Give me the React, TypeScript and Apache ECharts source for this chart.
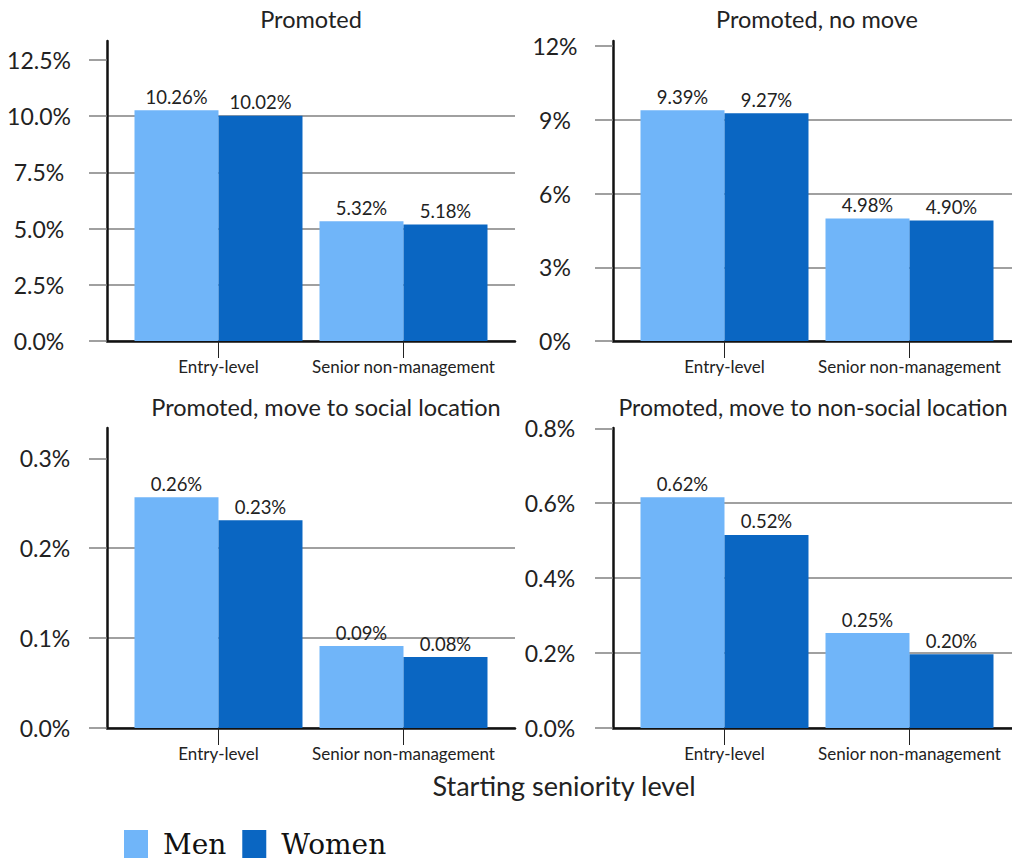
import React, { useEffect, useRef } from 'react';
import * as echarts from 'echarts';

// ---------- data ----------
const categories = ['Entry-level', 'Senior non-management'];
const seriesNames = ['Men', 'Women'];
const panelTitles = [
  'Promoted',
  'Promoted, no move',
  'Promoted, move to social location',
  'Promoted, move to non-social location',
];
const promotedMen = [10.26, 5.32];
const promotedWomen = [10.02, 5.18];
const noMoveMen = [9.39, 4.98];
const noMoveWomen = [9.27, 4.9];
const socialMen = [0.2567, 0.0911];
const socialWomen = [0.231, 0.0789];
const nonSocialMen = [0.616, 0.2533];
const nonSocialWomen = [0.5155, 0.197];
const yTickStep = [2.5, 3, 0.1, 0.2];
const yTickDecimals = [1, 0, 1, 1];
const xAxisTitle = 'Starting seniority level';

const panelMen = [promotedMen, noMoveMen, socialMen, nonSocialMen];
const panelWomen = [promotedWomen, noMoveWomen, socialWomen, nonSocialWomen];

// ---------- layout / style ----------
const FONT = 'Lato, "DejaVu Sans", sans-serif';
const TEXT = '#222222';
const GRID = '#808080';
const MEN_COLOR = '#70B5F9';
const WOMEN_COLOR = '#0A66C2';
const CANVAS_W = 1012;
const FULL_PLOT_W = 408;
const PLOT_H = 300;
const PX_PER_CAT = 185;
const X_MIN = -0.6027;
const layout = [
  { axisX: 107, top: 41, labelX: 39, titleX: 311, titleY: 19, titleSize: 23.5 },
  { axisX: 613, top: 41, labelX: 555, titleX: 817, titleY: 19, titleSize: 23.5 },
  { axisX: 107, top: 428, labelX: 45, titleX: 326, titleY: 407, titleSize: 23.5 },
  { axisX: 613, top: 428, labelX: 550, titleX: 813, titleY: 407, titleSize: 23 },
];

function isMultiple(v: number, step: number) {
  const r = v / step;
  return Math.abs(r - Math.round(r)) < 1e-6;
}

function buildOption() {
  const grid: any[] = [];
  const xAxis: any[] = [];
  const yAxis: any[] = [];
  const series: any[] = [];
  const graphic: any[] = [];

  layout.forEach((L, i) => {
    const men = panelMen[i];
    const women = panelWomen[i];
    const step = yTickStep[i];
    const dec = yTickDecimals[i];
    const yMax = Math.max(...men, ...women) * 1.3;
    const ticks: number[] = [];
    for (let k = 0; k * step <= yMax + 1e-9; k++) ticks.push(+(k * step).toFixed(6));

    const plotW = Math.min(FULL_PLOT_W, CANVAS_W - L.axisX);
    const xMax = X_MIN + plotW / PX_PER_CAT;

    grid.push({ left: L.axisX, top: L.top, width: plotW, height: PLOT_H });

    xAxis.push({
      gridIndex: i,
      type: 'value',
      min: X_MIN,
      max: xMax,
      axisLine: { show: true, onZero: false, lineStyle: { color: '#111', width: 2.5 } },
      axisTick: { show: true, customValues: [0, 1], length: 17, lineStyle: { color: '#222', width: 1 } },
      axisLabel: {
        show: true,
        customValues: [0, 1],
        margin: 17,
        fontFamily: FONT,
        fontSize: 17,
        color: TEXT,
        formatter: (v: number) => {
          if (Math.abs(v - Math.round(v)) > 1e-6) return '';
          return categories[Math.round(v)] ?? '';
        },
      },
      splitLine: { show: false },
    });

    yAxis.push({
      gridIndex: i,
      type: 'value',
      min: 0,
      max: yMax,
      interval: step,
      axisLine: { show: true, onZero: false, lineStyle: { color: '#111', width: 2.5 } },
      axisTick: { show: true, customValues: ticks, length: 18, lineStyle: { color: GRID, width: 1.5 } },
      axisLabel: {
        show: true,
        customValues: ticks,
        align: 'center',
        margin: L.axisX - L.labelX,
        fontFamily: FONT,
        fontSize: 23,
        color: TEXT,
        formatter: (v: number) => (isMultiple(v, step) ? v.toFixed(dec) + '%' : ''),
      },
      splitLine: { show: true, showMaxLine: false, lineStyle: { color: GRID, width: 1.5 } },
    });

    [men, women].forEach((vals, s) => {
      series.push({
        type: 'bar',
        name: seriesNames[s],
        xAxisIndex: i,
        yAxisIndex: i,
        data: vals.map((v, j) => [j, v]),
        barWidth: 84,
        barGap: '0%',
        itemStyle: { color: s === 0 ? MEN_COLOR : WOMEN_COLOR },
        label: {
          show: true,
          position: 'top',
          distance: 4,
          fontFamily: FONT,
          fontSize: 18.5,
          color: TEXT,
          formatter: (p: any) => p.value[1].toFixed(2) + '%',
        },
      });
    });

    graphic.push({
      type: 'text',
      x: L.titleX,
      y: L.titleY,
      style: {
        text: panelTitles[i],
        fontFamily: FONT,
        fontSize: L.titleSize,
        fill: TEXT,
        textAlign: 'center',
        textVerticalAlign: 'middle',
      },
    });
  });

  graphic.push({
    type: 'text',
    x: 564,
    y: 785,
    style: {
      text: xAxisTitle,
      fontFamily: FONT,
      fontSize: 27,
      fill: TEXT,
      textAlign: 'center',
      textVerticalAlign: 'middle',
    },
  });

  return {
    animation: false,
    backgroundColor: '#ffffff',
    grid,
    xAxis,
    yAxis,
    series,
    graphic,
    legend: {
      data: seriesNames,
      left: 124,
      top: 830,
      padding: 0,
      orient: 'horizontal',
      icon: 'rect',
      itemWidth: 24,
      itemHeight: 28,
      itemGap: 16,
      textStyle: {
        fontFamily: '"DejaVu Serif", serif',
        fontSize: 28,
        color: '#111',
        padding: [0, 0, 0, 10],
      },
    },
  };
}

export default function App() {
  const ref = useRef<HTMLDivElement>(null);
  useEffect(() => {
    if (!ref.current) return;
    const chart = echarts.init(ref.current, null, { renderer: 'svg' });
    chart.setOption(buildOption() as any);
    return () => chart.dispose();
  }, []);
  return (
    <div
      ref={ref}
      style={{ position: 'fixed', left: 0, top: 0, width: CANVAS_W, height: 861, background: '#fff' }}
    />
  );
}
